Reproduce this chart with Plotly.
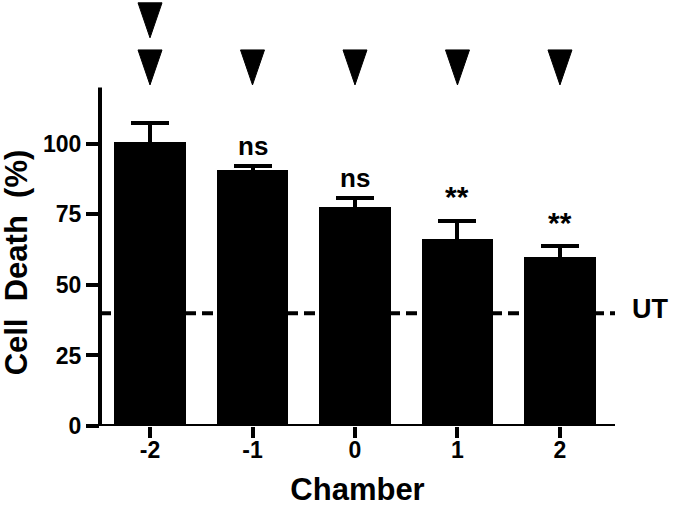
import plotly.graph_objects as go

# ---- data ----
chambers = [-2, -1, 0, 1, 2]
tick_labels = ["-2", "-1", "0", "1", "2"]
cell_death = [100.5, 90.7, 77.7, 66.4, 59.9]
sem = [6.9, 1.5, 3.2, 6.3, 3.9]
significance = ["", "ns", "ns", "**", "**"]
arrow_counts = [2, 1, 1, 1, 1]
untreated_level = 40
untreated_label = "UT"
y_ticks = [0, 25, 50, 75, 100]

FONT = "Liberation Sans, Arial, sans-serif"

fig = go.Figure()
fig.add_trace(go.Bar(
    x=chambers, y=cell_death, width=0.7,
    marker=dict(color="black", line=dict(width=0)),
    error_y=dict(type="data", array=sem, symmetric=True, color="black",
                 thickness=4, width=19),
    showlegend=False, hoverinfo="skip",
))

shapes = []
# dashed untreated reference line (behind bars)
shapes.append(dict(type="line", xref="paper", yref="y", x0=0, x1=1,
                   y0=untreated_level, y1=untreated_level, layer="below",
                   line=dict(color="black", width=4, dash="11px,6px")))
# axis lines (y axis only up to 120)
shapes.append(dict(type="line", xref="paper", yref="y", x0=0, x1=0,
                   y0=0, y1=120, layer="above",
                   line=dict(color="black", width=4)))
shapes.append(dict(type="line", xref="paper", yref="y", x0=0, x1=1,
                   y0=0, y1=0, layer="above",
                   line=dict(color="black", width=4)))
# arrowheads above each chamber
tip0, row_step, tri_h, half_w = 120.9, 16.7, 12.4, 0.117
for x, n in zip(chambers, arrow_counts):
    for k in range(n):
        tip = tip0 + k * row_step
        top = tip + tri_h
        shapes.append(dict(
            type="path", xref="x", yref="y", layer="above",
            path=f"M {x - half_w} {top} L {x + half_w} {top} L {x} {tip} Z",
            fillcolor="black", line=dict(color="black", width=1)))

annotations = []
for x, m, e, s in zip(chambers, cell_death, sem, significance):
    if s:
        annotations.append(dict(
            x=x, y=m + e, xref="x", yref="y", text=s, showarrow=False,
            yanchor="middle", yshift=(20 if s == "ns" else 24),
            font=dict(family=FONT, size=(26 if s == "ns" else 30),
                      color="black", weight="bold")))
annotations.append(dict(
    x=1, y=untreated_level, xref="paper", yref="y", text=untreated_label,
    showarrow=False, xanchor="left", yanchor="middle", xshift=15, yshift=4,
    font=dict(family=FONT, size=27, color="black", weight="bold")))
annotations.append(dict(
    x=0, y=58, xref="paper", yref="y", text="Cell\u00a0 Death\u00a0 (%)",
    showarrow=False, xanchor="center", yanchor="middle", xshift=-84,
    textangle=-90,
    font=dict(family=FONT, size=31, color="black", weight="bold")))

fig.update_layout(
    width=675, height=507,
    margin=dict(l=100, r=60, t=0, b=81),
    paper_bgcolor="white", plot_bgcolor="white",
    shapes=shapes, annotations=annotations,
    bargap=0,
    xaxis=dict(
        range=[-2.488, 2.537], tickvals=chambers, ticktext=tick_labels,
        showline=False, automargin=False,
        ticks="outside", ticklen=11, tickwidth=4, tickcolor="black",
        ticklabelstandoff=-8,
        showgrid=False, zeroline=False,
        tickfont=dict(family=FONT, size=23, color="black", weight="bold"),
        title=dict(text="Chamber", standoff=16,
                   font=dict(family=FONT, size=31, color="black", weight="bold")),
    ),
    yaxis=dict(
        range=[0, 151], tickvals=y_ticks, ticktext=[str(v) for v in y_ticks],
        showline=False, ticks="outside", ticklen=13, tickwidth=4,
        automargin=False,
        tickcolor="black", showgrid=False, zeroline=False,
        tickfont=dict(family=FONT, size=23, color="black", weight="bold"),
    ),
)

fig.write_html("out.html", config={"displayModeBar": False},
               post_script="document.body.style.margin='0px';")
